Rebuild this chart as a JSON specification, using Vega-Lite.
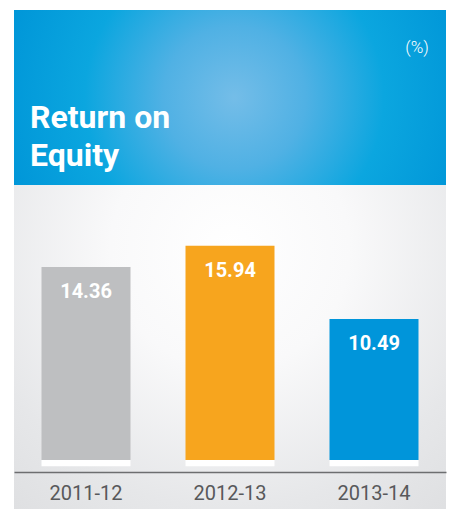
{
  "$schema": "https://vega.github.io/schema/vega-lite/v6.json",
  "width": 432,
  "height": 499,
  "autosize": {"type": "none"},
  "padding": {"left": 14, "top": 10, "right": 5, "bottom": 0},
  "background": "white",
  "config": {"view": {"stroke": null}},
  "view": {
    "fill": {
      "gradient": "radial",
      "x1": 0.5, "y1": 0.48, "r1": 0,
      "x2": 0.5, "y2": 0.48, "r2": 0.8,
      "stops": [
        {"offset": 0, "color": "#ffffff"},
        {"offset": 0.3, "color": "#f9f9fa"},
        {"offset": 0.65, "color": "#e6e7e9"},
        {"offset": 1, "color": "#d9dadc"}
      ]
    }
  },
  "title": {
    "text": ["Return on", "Equity"],
    "anchor": "start",
    "frame": "group",
    "orient": "top",
    "offset": 0,
    "baseline": "alphabetic",
    "dx": 16,
    "dy": 188,
    "font": "Roboto",
    "fontSize": 32,
    "fontWeight": "bold",
    "color": "white",
    "lineHeight": 38
  },
  "layer": [
    {
      "data": {"name": "roe"},
      "mark": {"type": "bar"},
      "encoding": {
        "x": {
          "field": "year",
          "type": "nominal",
          "sort": null,
          "scale": {"paddingInner": 0.382, "paddingOuter": 0.191},
          "axis": {
            "title": null,
            "orient": "bottom",
            "offset": -37,
            "ticks": false,
            "domainColor": "#6d6e70",
            "domainWidth": 1.5,
            "labelAngle": 0,
            "labelPadding": 11,
            "labelFont": "Roboto",
            "labelFontSize": 20,
            "labelColor": "#58595b"
          }
        },
        "y": {
          "field": "roe",
          "type": "quantitative",
          "scale": {"domain": [-3.646, 33.48], "nice": false, "zero": false},
          "axis": {
            "orient": "right",
            "zindex": 1,
            "title": "(%)",
            "domain": false,
            "ticks": false,
            "labels": false,
            "grid": false,
            "titleAngle": 0,
            "titleX": -29.5,
            "titleY": 37,
            "titleAlign": "center",
            "titleBaseline": "middle",
            "titleFont": "Roboto",
            "titleFontWeight": 300,
            "titleFontSize": 17,
            "titleColor": "white"
          }
        },
        "color": {
          "field": "year",
          "type": "nominal",
          "legend": null,
          "scale": {"domain": ["2011-12", "2012-13", "2013-14"], "range": ["#bebfc1", "#f7a51e", "#0095da"]}
        }
      }
    },
    {
      "data": {"values": [{"panel": "header"}]},
      "mark": {
        "type": "rect",
        "color": {
          "gradient": "radial",
          "x1": 0.51, "y1": 0.5, "r1": 0,
          "x2": 0.51, "y2": 0.5, "r2": 0.55,
          "stops": [
            {"offset": 0, "color": "#74bde8"},
            {"offset": 0.3, "color": "#50b1e4"},
            {"offset": 0.63, "color": "#0ba6df"},
            {"offset": 1, "color": "#0096d8"}
          ]
        }
      },
      "encoding": {
        "y": {"datum": 20.46, "type": "quantitative"},
        "y2": {"datum": 33.48}
      }
    },
    {
      "data": {"name": "roe"},
      "mark": {"type": "bar", "color": "white"},
      "encoding": {
        "x": {"field": "year", "type": "nominal", "sort": null},
        "y": {"datum": 0, "type": "quantitative"},
        "y2": {"datum": -0.47}
      }
    },
    {
      "data": {"name": "roe"},
      "mark": {"type": "text", "color": "white", "font": "Roboto", "fontWeight": "bold", "fontSize": 20, "baseline": "middle", "dy": 25},
      "encoding": {
        "x": {"field": "year", "type": "nominal", "sort": null},
        "y": {"field": "roe", "type": "quantitative"},
        "text": {"field": "roe", "type": "quantitative", "format": ".2f"}
      }
    }
  ],
  "datasets": {
    "roe": [
      {"year": "2011-12", "roe": 14.36},
      {"year": "2012-13", "roe": 15.94},
      {"year": "2013-14", "roe": 10.49}
    ]
  }
}
